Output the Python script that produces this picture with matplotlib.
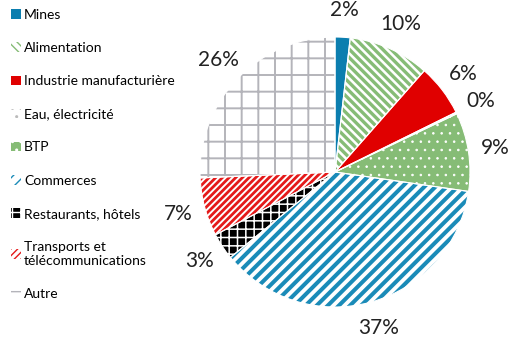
import numpy as np
import matplotlib.pyplot as plt

plt.rcParams['font.family'] = ['Lato', 'DejaVu Sans']

# Secteurs (ordre dans le sens horaire depuis midi)
sectors = ['Mines', 'Alimentation', 'Industrie manufacturière', 'Eau, électricité',
           'BTP', 'Commerces', 'Restaurants, hôtels',
           'Transports et\ntélécommunications', 'Autre']
shares = [1.8, 9.7, 6.2, 0.2, 9.4, 36.8, 3.2, 7.0, 25.7]

# styles: fond, couleur du motif, motif, épaisseur du motif
faces = ['#0B7EAF', 'white', '#E00000', 'white', '#86BC76', 'white', 'black', 'white', 'white']
hatch_cols = ['#0B7EAF', '#86BC76', '#E00000', '#BBBBBB', 'white', '#1A8BB8', 'white', '#E41A1A', '#B4B4BA']
hatches = [None, '\\\\\\\\', None, '..', '..', '///', '++', '/////', '+']
hatch_lw = [1, 2.4, 1, 0.6, 0.6, 2.9, 1.1, 2.0, 1.4]

fig = plt.figure(figsize=(5.1, 3.37), dpi=100)
ax = fig.add_axes([200 / 510, 30 / 337, 270 / 510, 270 / 337])

wedges, texts, autotexts = ax.pie(shares, startangle=90, counterclock=False,
                                  autopct='%1.0f%%', pctdistance=1.2, radius=1,
                                  textprops={'fontsize': 15, 'color': '#222222'})
for w, fc, hc, h, lw in zip(wedges, faces, hatch_cols, hatches, hatch_lw):
    w.set_facecolor(fc)
    w.set_edgecolor(hc)
    w.set_linewidth(0)
    w.set_hatch(h)
    if hasattr(w, 'set_hatch_linewidth'):
        w.set_hatch_linewidth(lw)

# fins séparateurs blancs
ax.pie(shares, startangle=90, counterclock=False, radius=1, colors=['none'] * len(shares),
       wedgeprops={'edgecolor': 'white', 'linewidth': 0.8})

ax.set_xlim(-1, 1)
ax.set_ylim(-1, 1)
ax.set_aspect('equal')

fig.legend(wedges, sectors, loc='upper left', bbox_to_anchor=(11 / 510, 1 - 9 / 337),
           frameon=False, fontsize=10, handlelength=0.7, handleheight=0.7,
           handletextpad=0.25, labelspacing=1.52, borderpad=0, borderaxespad=0)

fig.savefig('out.png', dpi=100)
